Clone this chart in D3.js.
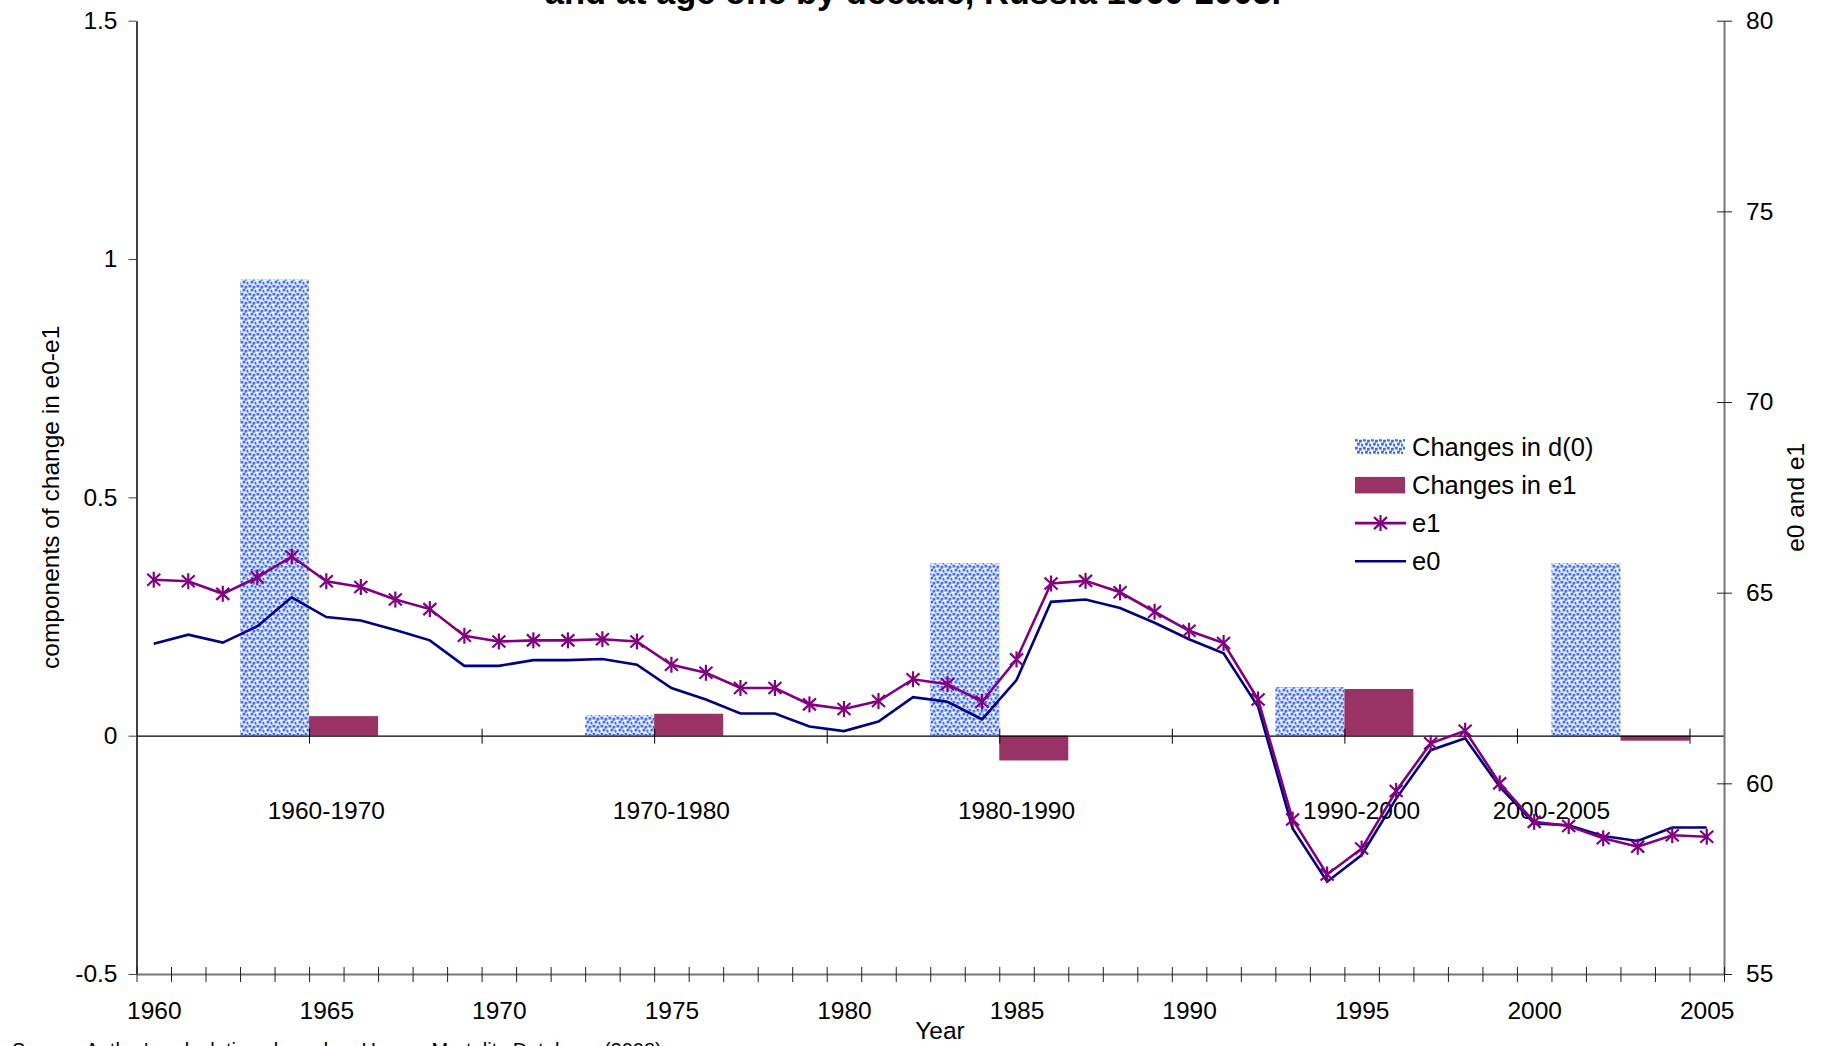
<!DOCTYPE html>
<meta charset="utf-8">
<style>
body { margin: 0; background: #fff; font-family: "Liberation Sans", Arial, sans-serif; }
svg text { fill: #000; }
</style>
<body>
<script src="https://cdn.jsdelivr.net/npm/d3@7"></script>
<script>

// life expectancy, Russia, 1960-2005 (right axis)
var years = d3.range(1960, 2006);
var e1 = [65.34, 65.30, 64.97, 65.40, 65.95, 65.30, 65.15, 64.82, 64.57, 63.87,
          63.72, 63.75, 63.75, 63.78, 63.72, 63.11, 62.90, 62.50, 62.50, 62.07,
          61.95, 62.16, 62.73, 62.60, 62.14, 63.25, 65.24, 65.31, 65.01, 64.50,
          64.00, 63.68, 62.20, 59.05, 57.61, 58.29, 59.80, 61.05, 61.38, 60.00,
          58.99, 58.88, 58.56, 58.34, 58.64, 58.60];
var e0 = [63.66, 63.90, 63.69, 64.12, 64.88, 64.36, 64.27, 64.02, 63.75, 63.08,
          63.08, 63.23, 63.23, 63.26, 63.11, 62.50, 62.20, 61.83, 61.83, 61.49,
          61.37, 61.62, 62.26, 62.14, 61.68, 62.71, 64.76, 64.82, 64.60, 64.21,
          63.78, 63.41, 62.01, 58.82, 57.42, 58.12, 59.60, 60.87, 61.18, 59.91,
          58.95, 58.90, 58.62, 58.49, 58.84, 58.84];

// decade components (left axis)
var periods = ["1960-1970", "1970-1980", "1980-1990", "1990-2000", "2000-2005"];
var barStart = [1963, 1973, 1983, 1993, 2001];   // first year band of d(0) bar
var labelAt = [1965.5, 1975.5, 1985.5, 1995.5, 2001];
var changeD0 = [0.957, 0.043, 0.362, 0.102, 0.362];
var changeE1 = [0.041, 0.046, -0.052, 0.098, -0.0105];

var leftTicks = [-0.5, 0, 0.5, 1, 1.5];
var rightTicks = [55, 60, 65, 70, 75, 80];
var yearLabels = d3.range(1960, 2006, 5);

var W = 1827, H = 1046;
var margin = {top: 20.7, right: 103, bottom: 72, left: 136.5};
var width = W - margin.left - margin.right,
    height = H - margin.top - margin.bottom;

var svg = d3.select("body").append("svg")
  .attr("width", W).attr("height", H);

var defs = svg.append("defs");
var pat = defs.append("pattern")
  .attr("id", "dots").attr("patternUnits", "userSpaceOnUse")
  .attr("width", 8).attr("height", 8);
pat.append("rect").attr("width", 8).attr("height", 8).attr("fill", "#fff");
[[0, 0], [4, 1], [2, 4], [6, 5]].forEach(function (p) {
  pat.append("rect").attr("x", p[0]).attr("y", p[1])
    .attr("width", 2.8).attr("height", 2.8).attr("fill", "#3366ff");
});

var g = svg.append("g")
  .attr("transform", "translate(" + margin.left + "," + margin.top + ")");

var x = d3.scaleLinear().domain([1960, 2006]).range([0, width]);
var yL = d3.scaleLinear().domain([-0.5, 1.5]).range([height, 0]);
var yR = d3.scaleLinear().domain([55, 80]).range([height, 0]);

// bars
g.selectAll(".bar-d0").data(periods).enter().append("rect")
  .attr("class", "bar-d0")
  .attr("x", function (d, i) { return x(barStart[i]); })
  .attr("width", function (d, i) { return x(barStart[i] + 2) - x(barStart[i]); })
  .attr("y", function (d, i) { return yL(Math.max(0, changeD0[i])); })
  .attr("height", function (d, i) { return Math.abs(yL(changeD0[i]) - yL(0)); })
  .attr("fill", "url(#dots)");

g.selectAll(".bar-e1").data(periods).enter().append("rect")
  .attr("class", "bar-e1")
  .attr("x", function (d, i) { return x(barStart[i] + 2); })
  .attr("width", function (d, i) { return x(barStart[i] + 4) - x(barStart[i] + 2); })
  .attr("y", function (d, i) { return yL(Math.max(0, changeE1[i])); })
  .attr("height", function (d, i) { return Math.abs(yL(changeE1[i]) - yL(0)); })
  .attr("fill", "#993366");

// zero line with ticks every 5 years
var zeroAxis = g.append("g")
  .attr("transform", "translate(0," + yL(0) + ")")
  .call(d3.axisBottom(x).tickValues(d3.range(1965, 2006, 5)).tickFormat("").tickSizeOuter(0));
zeroAxis.select(".domain").attr("stroke", "#000").attr("stroke-width", 1.3);
zeroAxis.selectAll(".tick line").attr("y1", -7).attr("y2", 8).attr("stroke", "#000");

// period labels
g.selectAll(".plab").data(periods).enter().append("text")
  .attr("class", "plab")
  .attr("x", function (d, i) { return x(labelAt[i]); })
  .attr("y", 798)
  .attr("text-anchor", "middle")
  .style("font-size", "24.5px")
  .text(function (d) { return d; });

// lines
var line = d3.line()
  .x(function (d, i) { return x(years[i] + 0.5); })
  .y(function (d) { return yR(d); });

g.append("path").datum(e0)
  .attr("fill", "none").attr("stroke", "#000080").attr("stroke-width", 2.6)
  .attr("d", line);

g.append("path").datum(e1)
  .attr("fill", "none").attr("stroke", "#800080").attr("stroke-width", 2.6)
  .attr("d", line);

function star(sel) {
  sel.append("line").attr("x1", 0).attr("x2", 0).attr("y1", -8).attr("y2", 8);
  sel.append("line").attr("x1", -6.5).attr("x2", 6.5).attr("y1", -6).attr("y2", 6);
  sel.append("line").attr("x1", -6.5).attr("x2", 6.5).attr("y1", 6).attr("y2", -6);
}

g.selectAll(".mk").data(e1).enter().append("g")
  .attr("class", "mk")
  .attr("transform", function (d, i) { return "translate(" + x(years[i] + 0.5) + "," + yR(d) + ")"; })
  .attr("stroke", "#800080").attr("stroke-width", 2.2)
  .call(star);

// left axis
var axL = g.append("g")
  .call(d3.axisLeft(yL).tickValues(leftTicks).tickSize(8).tickSizeOuter(0).tickPadding(11)
    .tickFormat(function (d) { return d; }));
axL.select(".domain").attr("stroke", "#000").attr("stroke-width", 1.5);
axL.selectAll(".tick line").attr("stroke", "#444");
axL.selectAll("text").style("font-size", "24.5px").attr("fill", "#000");

// right axis
var axR = g.append("g")
  .attr("transform", "translate(" + width + ",0)")
  .call(d3.axisRight(yR).tickValues(rightTicks).tickSize(8).tickSizeOuter(0).tickPadding(14));
axR.select(".domain").attr("stroke", "#777").attr("stroke-width", 2);
axR.selectAll(".tick line").attr("x1", -7).attr("x2", 8).attr("stroke", "#222");
axR.selectAll("text").style("font-size", "24.5px").attr("fill", "#000");

// bottom axis: tick at every year boundary, labels every 5 years
var axB = g.append("g")
  .attr("transform", "translate(0," + height + ")")
  .call(d3.axisBottom(x).tickValues(d3.range(1960, 2007)).tickFormat("").tickSizeOuter(0));
axB.select(".domain").attr("stroke", "#777").attr("stroke-width", 2);
axB.selectAll(".tick line").attr("y1", -7).attr("y2", 8).attr("stroke", "#222");

var axBL = g.append("g")
  .attr("transform", "translate(0," + height + ")")
  .call(d3.axisBottom(x).tickValues(yearLabels.map(function (d) { return d + 0.5; }))
    .tickSize(0).tickPadding(28).tickFormat(function (d) { return d - 0.5; }));
axBL.select(".domain").remove();
axBL.selectAll("text").style("font-size", "24.5px").attr("fill", "#000");

// axis titles
g.append("text")
  .attr("transform", "translate(" + (50 - margin.left) + "," + (height / 2) + ") rotate(-90)")
  .attr("text-anchor", "middle").attr("dy", "0.35em")
  .style("font-size", "24.5px")
  .text("components of change in e0-e1");

g.append("text")
  .attr("transform", "translate(" + (1795 - margin.left) + "," + (height / 2) + ") rotate(-90)")
  .attr("text-anchor", "middle").attr("dy", "0.35em")
  .style("font-size", "24.5px")
  .text("e0 and e1");

svg.append("text")
  .attr("x", 940).attr("y", 1039)
  .attr("text-anchor", "middle")
  .style("font-size", "24.5px")
  .text("Year");

// title (only its second line reaches into the frame)
svg.append("text")
  .attr("x", 913).attr("y", 4)
  .attr("text-anchor", "middle")
  .style("font-size", "34.5px").style("font-weight", "bold")
  .text("and at age one by decade, Russia 1960-2005.");

svg.append("text")
  .attr("x", 12).attr("y", 1057)
  .style("font-size", "20px")
  .text("Source: Author's calculations based on Human Mortality Database (2008).");

// legend
var legend = svg.append("g").attr("transform", "translate(1355,446.7)");
var items = ["Changes in d(0)", "Changes in e1", "e1", "e0"];
var row = legend.selectAll(".lg").data(items).enter().append("g")
  .attr("transform", function (d, i) { return "translate(0," + i * 38.2 + ")"; });
row.append("text").attr("x", 57).attr("y", 9)
  .style("font-size", "25.5px")
  .text(function (d) { return d; });

legend.append("rect").attr("x", 0).attr("y", -7.5).attr("width", 50).attr("height", 15)
  .attr("fill", "url(#dots)");
legend.append("rect").attr("x", 0).attr("y", 38.2 - 8).attr("width", 50).attr("height", 16.5)
  .attr("fill", "#993366");
legend.append("line").attr("x1", 0).attr("x2", 51).attr("y1", 76.4).attr("y2", 76.4)
  .attr("stroke", "#800080").attr("stroke-width", 2.6);
legend.append("g").attr("transform", "translate(25.5,76.4)")
  .attr("stroke", "#800080").attr("stroke-width", 2.2)
  .call(star);
legend.append("line").attr("x1", 0).attr("x2", 51).attr("y1", 114.6).attr("y2", 114.6)
  .attr("stroke", "#000080").attr("stroke-width", 2.6);

</script>
</body>
